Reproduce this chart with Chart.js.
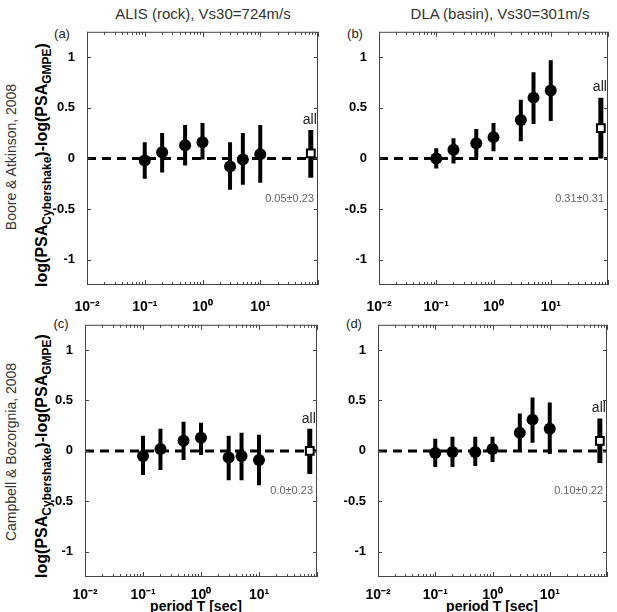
<!DOCTYPE html>
<html>
<head>
<meta charset="utf-8">
<script src="https://cdn.jsdelivr.net/npm/chart.js@4.4.0/dist/chart.umd.min.js"></script>
<style>
body { margin: 0; background: #fff; width: 617px; height: 612px; position: relative; overflow: hidden;
       font-family: "Liberation Sans", Arial, sans-serif; }
canvas { position: absolute; }
.txt { position: absolute; white-space: nowrap; color: #222; transform: translate(-50%, -50%); line-height: 1; }
.rot { transform: translate(-50%, -50%) rotate(-90deg); }
.title { font-size: 15px; color: #333; }
.row { font-size: 14px; color: #333; }
.ylab { font-size: 16px; font-weight: bold; color: #000; }
.ylab sub { font-size: 12px; vertical-align: -4px; }
.xlab { font-size: 14px; font-weight: bold; color: #000; }
.letter { font-size: 13px; color: #222; }
</style>
</head>
<body>

<div class="txt title" style="left:203px;top:13px">ALIS (rock), Vs30=724m/s</div>
<div class="txt title" style="left:500px;top:13px">DLA (basin), Vs30=301m/s</div>

<div class="txt row rot" style="left:11px;top:157px">Boore &amp; Atkinson, 2008</div>
<div class="txt row rot" style="left:11px;top:452px">Campbell &amp; Bozorgnia, 2008</div>

<div class="txt ylab rot" style="left:43px;top:165px">log(PSA<sub>Cybershake</sub>)-log(PSA<sub>GMPE</sub>)</div>
<div class="txt ylab rot" style="left:43px;top:456px">log(PSA<sub>Cybershake</sub>)-log(PSA<sub>GMPE</sub>)</div>

<div class="txt letter" style="left:62px;top:33px">(a)</div>
<div class="txt letter" style="left:355px;top:33px">(b)</div>
<div class="txt letter" style="left:61px;top:323px">(c)</div>
<div class="txt letter" style="left:354px;top:323px">(d)</div>

<div class="txt xlab" style="left:196px;top:606px">period T [sec]</div>
<div class="txt xlab" style="left:492px;top:606px">period T [sec]</div>

<canvas id="pa"></canvas>
<canvas id="pb"></canvas>
<canvas id="pc"></canvas>
<canvas id="pd"></canvas>

<script>
// periods of the individual points, and the position of the "all" summary
const periods = [0.1, 0.2, 0.5, 1, 3, 5, 10];
const allPeriod = 75;

// (a) Boore & Atkinson, ALIS
const meanA = [-0.02, 0.06, 0.13, 0.16, -0.08, -0.01, 0.04];
const lowA  = [-0.20, -0.14, -0.07, -0.01, -0.31, -0.26, -0.24];
const highA = [0.16, 0.25, 0.33, 0.35, 0.16, 0.25, 0.33];
const allA  = [0.05, -0.19, 0.28];   // mean, low, high

// (b) Boore & Atkinson, DLA
const meanB = [0.0, 0.085, 0.15, 0.21, 0.38, 0.60, 0.67];
const lowB  = [-0.10, -0.05, 0.0, 0.07, 0.17, 0.34, 0.37];
const highB = [0.10, 0.20, 0.29, 0.35, 0.58, 0.85, 0.97];
const allB  = [0.30, 0.0, 0.60];

// (c) Campbell & Bozorgnia, ALIS
const meanC = [-0.05, 0.02, 0.10, 0.13, -0.065, -0.05, -0.09];
const lowC  = [-0.24, -0.19, -0.09, -0.04, -0.29, -0.29, -0.34];
const highC = [0.15, 0.22, 0.29, 0.28, 0.15, 0.18, 0.16];
const allC  = [0.0, -0.23, 0.22];

// (d) Campbell & Bozorgnia, DLA
const meanD = [-0.02, -0.01, -0.01, 0.02, 0.18, 0.31, 0.22];
const lowD  = [-0.16, -0.16, -0.15, -0.11, 0.0, 0.08, -0.03];
const highD = [0.12, 0.14, 0.14, 0.14, 0.37, 0.53, 0.48];
const allD  = [0.10, -0.12, 0.32];

const statA = '0.05\u00b10.23';
const statB = '0.31\u00b10.31';
const statC = '0.0\u00b10.23';
const statD = '0.10\u00b10.22';

const yTicks = [-1, -0.5, 0, 0.5, 1];
const xLabels = { 0.01: '10\u207b\u00b2', 0.1: '10\u207b\u00b9', 1: '10\u2070', 10: '10\u00b9' };
const xMin = 0.01, xMax = 100;
const statY = -0.4;

const FONT = '"Liberation Sans", Arial, sans-serif';
const AXW = 42, PADT = 9, PADR = 8, AXH = 30;

// all log ticks 1..9 x 10^n between xMin and xMax
function logTicks() {
    const out = [];
    for (let e = -2; e <= 1; e++) {
        for (let m = 1; m <= 9; m++) {
            out.push({ value: +(m * Math.pow(10, e)).toPrecision(3), major: m === 1 });
        }
    }
    out.push({ value: 100, major: true });
    return out;
}

const framePlugin = {
    id: 'frame',
    afterDraw(chart, args, opts) {
        const ctx = chart.ctx;
        const a = chart.chartArea;
        const x = chart.scales.x, y = chart.scales.y;
        ctx.save();
        ctx.strokeStyle = '#444';
        ctx.lineWidth = 1;
        ctx.strokeRect(a.left + 0.5, a.top + 0.5, a.width - 1, a.height - 1);

        ctx.beginPath();
        x.ticks.forEach(t => {
            const px = Math.round(x.getPixelForValue(t.value)) + 0.5;
            const len = t.major ? 5 : 3;
            ctx.moveTo(px, a.bottom); ctx.lineTo(px, a.bottom - len);
            ctx.moveTo(px, a.top); ctx.lineTo(px, a.top + len);
        });
        y.ticks.forEach(t => {
            const py = Math.round(y.getPixelForValue(t.value)) + 0.5;
            ctx.moveTo(a.left, py); ctx.lineTo(a.left + 4, py);
            ctx.moveTo(a.right, py); ctx.lineTo(a.right - 4, py);
        });
        ctx.stroke();

        ctx.fillStyle = '#222';
        ctx.font = '14px ' + FONT;
        ctx.textAlign = 'center';
        ctx.textBaseline = 'bottom';
        ctx.fillText('all', x.getPixelForValue(opts.allX) - 1, y.getPixelForValue(opts.allHigh) - 3);

        ctx.fillStyle = '#666';
        ctx.font = '11px ' + FONT;
        ctx.textAlign = 'right';
        ctx.textBaseline = 'middle';
        ctx.fillText(opts.stat, a.right - 4, y.getPixelForValue(statY));
        ctx.restore();
    }
};

function makePanel(id, rect, xPad, mean, low, high, all, stat) {
    const canvas = document.getElementById(id);
    const [L, T, R, B] = rect;
    canvas.width = (R - L) + AXW + PADR;
    canvas.height = (B - T) + PADT + AXH;
    canvas.style.left = (L - AXW) + 'px';
    canvas.style.top = (T - PADT) + 'px';

    const bars = [];
    periods.forEach((p, i) => {
        bars.push({ x: p, y: low[i] }, { x: p, y: high[i] }, { x: p, y: null });
    });

    new Chart(canvas, {
        type: 'line',
        data: {
            datasets: [
                {
                    data: periods.map((p, i) => ({ x: p, y: mean[i] })),
                    showLine: false, pointRadius: 6, pointHoverRadius: 6,
                    pointBackgroundColor: '#000', pointBorderWidth: 0
                },
                {
                    data: [{ x: allPeriod, y: all[0] }],
                    showLine: false, pointStyle: 'rect', pointRadius: 5.5, pointHoverRadius: 5.5,
                    pointBackgroundColor: '#fff', pointBorderColor: '#000', pointBorderWidth: 2
                },
                {
                    data: bars, borderColor: '#000', borderWidth: 4, pointRadius: 0, spanGaps: false
                },
                {
                    data: [{ x: allPeriod, y: all[1] }, { x: allPeriod, y: all[2] }],
                    borderColor: '#000', borderWidth: 5, pointRadius: 0
                },
                {
                    data: [{ x: xMin, y: 0 }, { x: xMax, y: 0 }],
                    borderColor: '#000', borderWidth: 3, borderDash: [9, 6], pointRadius: 0
                }
            ]
        },
        options: {
            responsive: false,
            animation: false,
            events: [],
            layout: { padding: { top: PADT, right: PADR, left: 0, bottom: 0 } },
            plugins: {
                legend: { display: false },
                tooltip: { enabled: false },
                frame: { allX: allPeriod, allHigh: all[2], stat: stat }
            },
            scales: {
                x: {
                    type: 'logarithmic', min: xMin, max: xMax,
                    grid: { display: false }, border: { display: false },
                    afterBuildTicks: s => { s.ticks = logTicks(); },
                    afterFit: s => { s.height = AXH; },
                    ticks: {
                        autoSkip: false, maxRotation: 0, padding: xPad, color: '#000',
                        font: { family: FONT, size: 14, weight: 'bold' },
                        callback: v => xLabels[v] || ''
                    }
                },
                y: {
                    min: -1.25, max: 1.25,
                    grid: { display: false }, border: { display: false },
                    afterBuildTicks: s => { s.ticks = yTicks.map(v => ({ value: v })); },
                    afterFit: s => { s.width = AXW; },
                    ticks: {
                        padding: 4, color: '#000',
                        font: { family: FONT, size: 13, weight: 'bold' },
                        callback: v => String(v)
                    }
                }
            }
        },
        plugins: [framePlugin]
    });
}

makePanel('pa', [87, 29, 318, 285], 6, meanA, lowA, highA, allA, statA);
makePanel('pb', [379, 29, 608, 285], 6, meanB, lowB, highB, allB, statB);
makePanel('pc', [85, 322, 317, 577], 2, meanC, lowC, highC, allC, statC);
makePanel('pd', [378, 322, 607, 577], 2, meanD, lowD, highD, allD, statD);
</script>
</body>
</html>
